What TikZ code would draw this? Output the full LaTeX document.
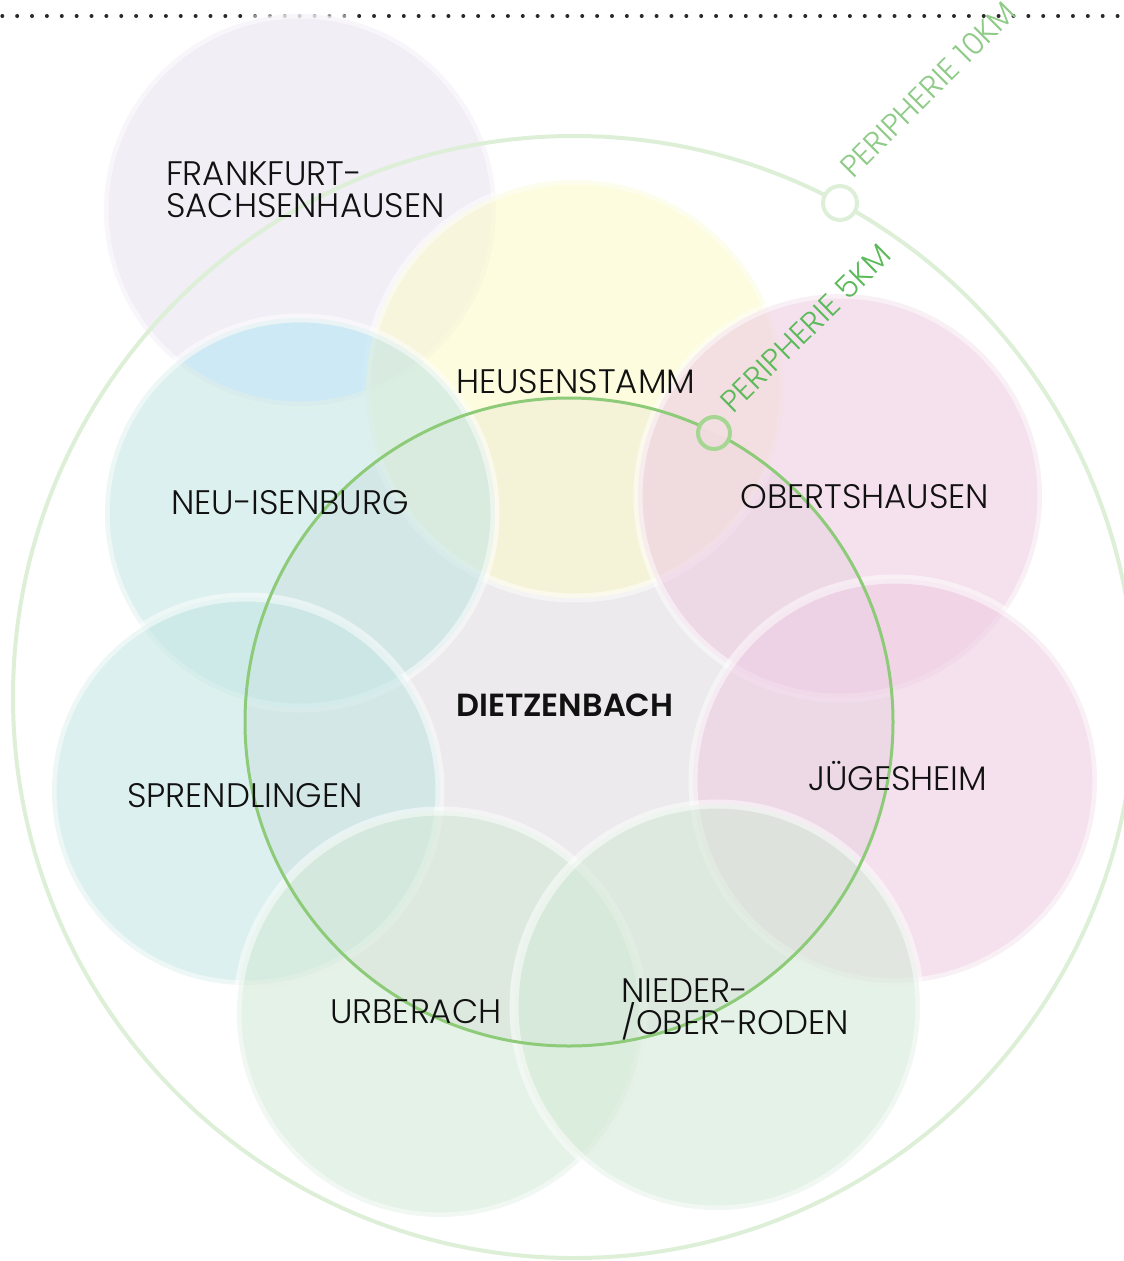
\documentclass[tikz,border=0pt]{standalone}
\usepackage{fontspec}
\setmainfont{Poppins Light}
\newfontfamily\boldf{Poppins SemiBold}
\definecolor{cgray}{HTML}{ECEAEC}
\definecolor{clav}{HTML}{E7E2F0}
\definecolor{cyel}{HTML}{FCFAC9}
\definecolor{cpink}{HTML}{EECDE3}
\definecolor{cteal}{HTML}{C5E6E4}
\definecolor{cgreen}{HTML}{D4E9D7}
\definecolor{cblue}{HTML}{C6EAFF}
\definecolor{ring5}{HTML}{8DCB79}
\definecolor{ring10}{HTML}{DDEFD7}
\definecolor{lab5}{HTML}{5CBA5A}
\definecolor{lab10}{HTML}{8ECB87}
\definecolor{mark5}{HTML}{A6D792}
\definecolor{txt}{HTML}{111111}
\begin{document}
\begin{tikzpicture}[x=1pt,y=-1pt,
  town/.style={fill=#1, fill opacity=0.6, draw=white, draw opacity=0.5, line width=9pt},
  lbl/.style={anchor=base west, inner sep=0pt, text=txt, font=\fontsize{34}{32}\selectfont, align=left},
  perilabel/.style={anchor=base west, inner sep=0pt, font=\fontsize{31}{30}\selectfont}]
\useasboundingbox (0,0) rectangle (1124,1261);
% dotted top line
\draw[line width=4pt, line cap=round, dash pattern=on 0pt off 14.87pt, draw=txt!90] (2.3,16) -- (1124,16);
% peripheries centres
\coordinate (c5) at (569,722);
\coordinate (c10) at (574,697);
\coordinate (m5) at (714,433);
\coordinate (m10) at (840,203);
% central area (Dietzenbach, 5 km)
\fill[cgray] (c5) circle (324);
% town circles
\filldraw[town=clav]  (300,210) circle (196);
\filldraw[town=cyel]  (575,389) circle (209);
\filldraw[town=cteal] (300,513) circle (195);
% bluish overlap Frankfurt / Neu-Isenburg
\begin{scope}
  \clip (300,210) circle (191.5);
  \begin{scope}[even odd rule]
    \clip (0,0) rectangle (1124,1261) (575,389) circle (209);
    \fill[cblue, fill opacity=0.5] (300,513) circle (190.5);
  \end{scope}
\end{scope}
\filldraw[town=cpink] (840,496) circle (202);
\filldraw[town=cteal] (246,791) circle (194);
\filldraw[town=cpink] (895,781) circle (202);
\filldraw[town=cgreen] (440,1014) circle (203);
\filldraw[town=cgreen] (717,1007) circle (203);
% periphery rings
\begin{scope}[even odd rule]
  \clip (0,0) rectangle (1124,1261) (m5) circle (16) (m10) circle (17);
  \draw[ring10, line width=4pt] (c10) circle (561);
  \draw[ring5, line width=3pt] (c5) circle (324);
\end{scope}
\draw[ring10, line width=4pt] (m10) circle (17);
\draw[mark5, line width=4pt] (m5) circle (16);
\node[perilabel, text=lab10, rotate=45] (p10) at (853,180) {PERIPHERIE 10KM};
\node[perilabel, text=lab5, rotate=44.5] (p5) at (733,415) {PERIPHERIE 5KM};
% labels
\node[lbl] (ffm) at (166,217) {FRANKFURT-\\SACHSENHAUSEN};
\node[lbl] (heu) at (456,393) {HEUSENSTAMM};
\node[lbl] (neu) at (171,514) {NEU-ISENBURG};
\node[lbl] (obe) at (740,508) {OBERTSHAUSEN};
\node[lbl, font=\boldf\fontsize{32}{33}\selectfont] (die) at (456,716) {DIETZENBACH};
\node[lbl] (jue) at (808,790) {JÜGESHEIM};
\node[lbl] (spr) at (127,807) {SPRENDLINGEN};
\node[lbl] (urb) at (330,1023) {URBERACH};
\node[lbl] (nie) at (621,1034) {NIEDER-\\/OBER-RODEN};
\end{tikzpicture}
\end{document}
